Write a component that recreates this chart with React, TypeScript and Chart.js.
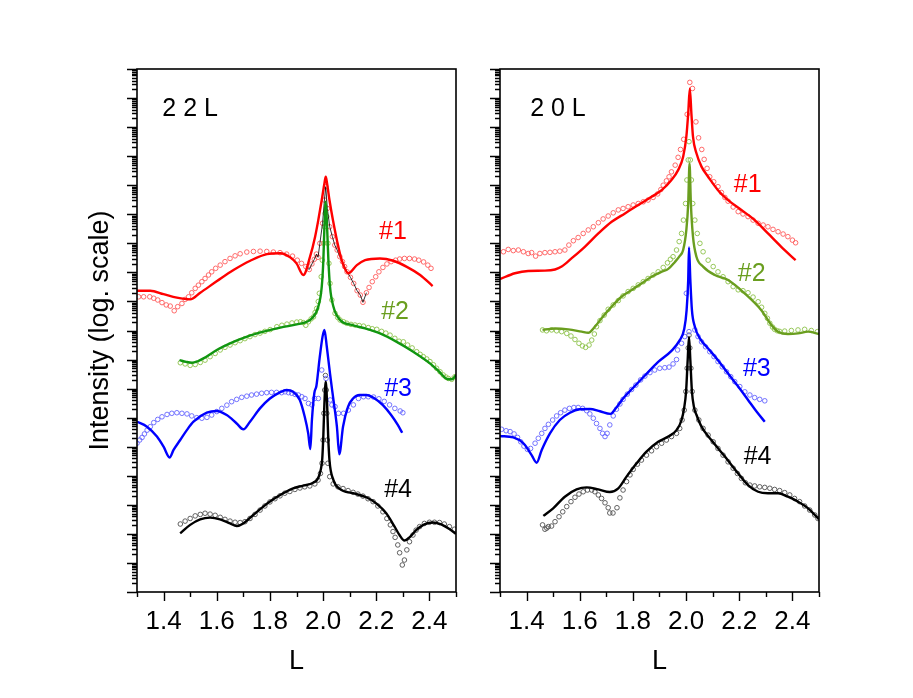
import React, { useEffect, useRef } from 'react';
import { Chart, registerables } from 'chart.js';

Chart.register(...registerables);

type P = [number, number]; // [L, log10(intensity)]

const FONT = '"Liberation Sans", Arial, Helvetica, sans-serif';

// Axis ticks
const X_TICKS = [1.3, 1.4, 1.5, 1.6, 1.7, 1.8, 1.9, 2.0, 2.1, 2.2, 2.3, 2.4, 2.5];
const X_LABELS = [1.4, 1.6, 1.8, 2.0, 2.2, 2.4];
const Y_DECADES = [0, 1, 2, 3, 4, 5, 6, 7, 8, 9, 10, 11, 12, 13, 14, 15, 16, 17, 18];
const Y_MINOR = [2, 3, 4, 5, 6, 7, 8, 9];

// Colours
const RED = '#ff0000';
const RED_PT = '#ff5a5a';
const GREEN_L = '#119611';
const OLIVE = '#6a9e1f';
const GREEN_PT = '#8cc24a';
const BLUE = '#0000ff';
const BLUE_PT = '#6464ff';
const BLACK = '#000000';
const BLACK_PT = '#505050';

// ---------- Left panel: 2 2 L ----------
const left1Fit: P[] = [[1.300,10.37],[1.350,10.37],[1.400,10.25],[1.450,10.13],[1.500,10.07],[1.538,10.30],[1.601,10.70],[1.663,11.08],[1.726,11.40],[1.789,11.63],[1.839,11.66],[1.876,11.52],[1.900,11.31],[1.926,10.91],[1.951,11.54],[1.970,12.23],[1.982,12.80],[1.995,13.49],[2.005,14.06],[2.010,14.29],[2.015,14.06],[2.024,13.49],[2.037,12.80],[2.052,12.11],[2.070,11.42],[2.095,10.97],[2.127,11.25],[2.158,11.42],[2.214,11.48],[2.264,11.40],[2.315,11.19],[2.365,10.91],[2.412,10.53]];
const left1Data: P[] = [[1.306,10.16],[1.325,10.16],[1.348,10.16],[1.363,10.11],[1.378,10.05],[1.394,9.96],[1.410,9.88],[1.425,9.84],[1.440,9.68],[1.453,9.82],[1.469,9.93],[1.481,10.07],[1.494,10.16],[1.506,10.30],[1.519,10.45],[1.531,10.56],[1.544,10.68],[1.556,10.79],[1.569,10.91],[1.581,11.02],[1.596,11.14],[1.613,11.25],[1.631,11.37],[1.650,11.48],[1.669,11.57],[1.688,11.64],[1.713,11.70],[1.738,11.72],[1.763,11.73],[1.788,11.72],[1.813,11.70],[1.838,11.68],[1.863,11.63],[1.885,11.56],[1.903,11.42],[1.919,11.31],[1.935,11.20],[1.948,11.10],[1.958,11.29],[1.967,11.45],[1.975,11.63],[1.981,11.52],[1.988,12.00],[1.998,12.69],[2.005,13.49],[2.010,13.95],[2.016,13.20],[2.025,12.57],[2.035,12.23],[2.044,11.94],[2.053,11.77],[2.063,11.54],[2.073,11.37],[2.081,11.20],[2.090,11.02],[2.103,10.83],[2.115,10.62],[2.128,10.37],[2.140,10.22],[2.150,9.97],[2.163,10.30],[2.173,10.48],[2.185,10.68],[2.198,10.85],[2.210,11.02],[2.225,11.17],[2.240,11.29],[2.256,11.37],[2.273,11.42],[2.288,11.46],[2.306,11.48],[2.325,11.48],[2.344,11.46],[2.360,11.42],[2.378,11.36],[2.394,11.25],[2.406,11.14]];

const left2Fit: P[] = [[1.460,7.98],[1.485,7.92],[1.507,7.89],[1.530,7.95],[1.550,8.04],[1.600,8.33],[1.650,8.56],[1.714,8.79],[1.776,8.96],[1.839,9.10],[1.901,9.21],[1.939,9.30],[1.958,9.42],[1.982,9.82],[1.995,10.51],[2.001,11.42],[2.005,12.57],[2.010,13.43],[2.015,12.57],[2.020,11.42],[2.026,10.51],[2.039,9.82],[2.064,9.36],[2.108,9.19],[2.158,9.07],[2.214,8.90],[2.277,8.61],[2.339,8.27],[2.402,7.87],[2.437,7.58],[2.469,7.32],[2.485,7.32],[2.500,7.47]];
const left2Data: P[] = [[1.463,7.89],[1.481,7.85],[1.500,7.80],[1.519,7.83],[1.538,7.90],[1.556,7.98],[1.575,8.10],[1.594,8.21],[1.613,8.33],[1.631,8.42],[1.650,8.50],[1.669,8.58],[1.688,8.65],[1.706,8.72],[1.725,8.79],[1.744,8.86],[1.763,8.91],[1.781,8.97],[1.801,9.03],[1.826,9.13],[1.845,9.18],[1.864,9.22],[1.883,9.26],[1.901,9.29],[1.915,9.30],[1.926,9.27],[1.935,9.18],[1.945,9.30],[1.955,9.40],[1.964,9.47],[1.970,9.62],[1.976,9.76],[1.982,10.00],[1.986,10.28],[1.993,10.85],[1.997,11.42],[2.003,12.00],[2.005,12.57],[2.008,13.03],[2.014,12.92],[2.018,12.00],[2.022,11.31],[2.026,10.62],[2.033,10.05],[2.045,9.59],[2.055,9.45],[2.064,9.36],[2.077,9.30],[2.089,9.25],[2.105,9.21],[2.120,9.19],[2.136,9.17],[2.152,9.15],[2.170,9.10],[2.185,9.06],[2.202,9.04],[2.220,8.97],[2.236,8.91],[2.252,8.84],[2.270,8.73],[2.286,8.63],[2.302,8.61],[2.318,8.50],[2.335,8.40],[2.352,8.27],[2.365,8.18],[2.377,8.10],[2.390,8.02],[2.402,7.93],[2.415,7.82],[2.427,7.70],[2.440,7.58],[2.452,7.47],[2.462,7.40],[2.471,7.35],[2.484,7.32],[2.496,7.41]];

const left3Fit: P[] = [[1.300,5.86],[1.3375,5.69],[1.375,5.35],[1.400,5.00],[1.4225,4.63],[1.4375,4.89],[1.4625,5.23],[1.4875,5.57],[1.5125,5.86],[1.5625,6.17],[1.600,6.23],[1.6375,6.09],[1.675,5.80],[1.700,5.60],[1.725,5.86],[1.7625,6.32],[1.800,6.66],[1.8375,6.87],[1.8625,6.95],[1.8875,6.89],[1.9125,6.61],[1.931,6.03],[1.944,5.46],[1.952,4.92],[1.958,5.92],[1.967,6.84],[1.975,7.10],[1.987,8.05],[1.998,8.79],[2.005,9.02],[2.014,8.44],[2.026,7.52],[2.039,6.61],[2.052,5.69],[2.061,4.74],[2.075,5.69],[2.094,6.38],[2.1125,6.66],[2.1375,6.78],[2.1625,6.78],[2.194,6.66],[2.225,6.43],[2.256,6.09],[2.281,5.75],[2.2975,5.48]];
const left3Data: P[] = [[1.300,5.12],[1.310,5.23],[1.319,5.32],[1.328,5.44],[1.338,5.57],[1.350,5.69],[1.363,5.83],[1.378,5.94],[1.394,6.03],[1.413,6.11],[1.431,6.15],[1.450,6.17],[1.469,6.15],[1.488,6.13],[1.506,6.06],[1.525,6.00],[1.544,5.98],[1.563,6.01],[1.581,6.09],[1.600,6.21],[1.619,6.32],[1.638,6.43],[1.656,6.55],[1.675,6.63],[1.694,6.70],[1.713,6.74],[1.731,6.78],[1.750,6.81],[1.769,6.84],[1.788,6.86],[1.806,6.87],[1.825,6.87],[1.844,6.86],[1.857,6.89],[1.870,6.86],[1.882,6.84],[1.895,6.80],[1.907,6.78],[1.920,6.72],[1.932,6.66],[1.945,6.49],[1.958,6.44],[1.968,6.66],[1.982,6.66],[1.995,7.64],[2.011,7.35],[2.027,6.61],[2.033,6.44],[2.045,6.38],[2.058,6.15],[2.077,6.15],[2.095,6.26],[2.114,6.44],[2.133,6.66],[2.152,6.72],[2.170,6.72],[2.190,6.71],[2.210,6.65],[2.230,6.56],[2.250,6.44],[2.270,6.32],[2.290,6.23],[2.300,6.17]];

const left4Fit: P[] = [[1.4625,2.02],[1.500,2.31],[1.5375,2.50],[1.575,2.56],[1.6125,2.50],[1.650,2.36],[1.675,2.27],[1.700,2.36],[1.7375,2.65],[1.775,2.94],[1.8125,3.19],[1.850,3.40],[1.8875,3.57],[1.925,3.66],[1.9625,3.76],[1.981,3.91],[1.991,4.20],[1.997,4.60],[2.001,5.40],[2.005,6.50],[2.010,7.24],[2.015,6.50],[2.019,5.40],[2.024,4.54],[2.039,3.85],[2.0625,3.55],[2.1125,3.40],[2.1625,3.26],[2.200,3.05],[2.2375,2.71],[2.269,2.25],[2.2875,1.96],[2.306,1.77],[2.325,1.88],[2.350,2.13],[2.381,2.33],[2.4125,2.39],[2.444,2.33],[2.475,2.17],[2.500,2.00]];
const left4Data: P[] = [[1.463,2.34],[1.481,2.44],[1.500,2.53],[1.519,2.62],[1.538,2.67],[1.556,2.71],[1.575,2.68],[1.594,2.64],[1.613,2.57],[1.631,2.50],[1.650,2.44],[1.669,2.40],[1.688,2.39],[1.706,2.42],[1.725,2.53],[1.744,2.67],[1.763,2.82],[1.781,2.96],[1.800,3.10],[1.819,3.21],[1.838,3.31],[1.856,3.40],[1.875,3.46],[1.894,3.53],[1.913,3.58],[1.931,3.62],[1.950,3.65],[1.969,3.72],[1.981,3.85],[1.990,4.08],[1.996,4.43],[2.000,5.23],[2.003,6.15],[2.006,6.95],[2.009,7.45],[2.012,6.95],[2.014,6.15],[2.016,5.23],[2.018,4.43],[2.025,3.97],[2.038,3.72],[2.056,3.62],[2.075,3.56],[2.094,3.49],[2.113,3.43],[2.131,3.37],[2.150,3.30],[2.169,3.21],[2.188,3.11],[2.206,2.96],[2.225,2.76],[2.240,2.53],[2.253,2.31],[2.263,2.08],[2.271,1.88],[2.281,1.62],[2.288,1.35],[2.298,0.93],[2.306,1.10],[2.315,1.45],[2.325,1.73],[2.338,1.96],[2.350,2.13],[2.363,2.25],[2.381,2.36],[2.400,2.40],[2.419,2.40],[2.438,2.39],[2.456,2.34],[2.475,2.25],[2.494,2.16]];

// ---------- Right panel: 2 0 L ----------
const right1Fit: P[] = [[1.300,10.77],[1.356,10.97],[1.406,11.05],[1.469,11.06],[1.507,11.10],[1.532,11.20],[1.569,11.48],[1.619,11.88],[1.670,12.34],[1.720,12.74],[1.770,13.03],[1.820,13.32],[1.870,13.60],[1.908,13.83],[1.945,14.18],[1.970,14.52],[1.989,14.98],[2.001,15.67],[2.008,16.47],[2.014,17.33],[2.020,16.47],[2.026,15.67],[2.039,15.10],[2.058,14.64],[2.083,14.29],[2.120,13.83],[2.158,13.49],[2.208,13.15],[2.258,12.80],[2.308,12.34],[2.358,11.88],[2.412,11.42]];
const right1Data: P[] = [[1.313,11.71],[1.331,11.79],[1.350,11.75],[1.369,11.77],[1.388,11.71],[1.406,11.65],[1.419,11.68],[1.434,11.56],[1.450,11.65],[1.469,11.68],[1.488,11.69],[1.507,11.71],[1.525,11.73],[1.544,11.77],[1.559,11.94],[1.576,12.09],[1.594,12.20],[1.613,12.34],[1.632,12.46],[1.651,12.57],[1.670,12.71],[1.688,12.84],[1.707,12.94],[1.726,13.05],[1.745,13.15],[1.763,13.20],[1.782,13.26],[1.801,13.32],[1.820,13.37],[1.839,13.43],[1.857,13.49],[1.876,13.58],[1.893,13.70],[1.905,13.85],[1.914,14.00],[1.926,14.15],[1.936,14.29],[1.945,14.46],[1.959,14.69],[1.970,14.96],[1.979,15.23],[1.991,15.58],[2.004,16.44],[2.014,17.54],[2.024,17.33],[2.037,16.18],[2.047,15.63],[2.059,15.23],[2.068,14.89],[2.079,14.58],[2.089,14.29],[2.104,14.12],[2.120,13.95],[2.133,13.75],[2.146,13.58],[2.158,13.45],[2.177,13.25],[2.196,13.09],[2.214,13.01],[2.233,12.92],[2.252,12.80],[2.271,12.69],[2.290,12.63],[2.308,12.57],[2.327,12.48],[2.346,12.40],[2.365,12.32],[2.383,12.23],[2.400,12.11],[2.412,12.02]];

const right2Fit: P[] = [[1.460,9.02],[1.507,9.07],[1.557,9.04],[1.607,8.96],[1.632,8.92],[1.657,9.13],[1.682,9.42],[1.720,9.82],[1.757,10.16],[1.795,10.39],[1.832,10.62],[1.870,10.85],[1.907,11.02],[1.933,11.12],[1.958,11.36],[1.975,11.55],[1.989,11.77],[2.001,12.46],[2.008,13.37],[2.013,14.75],[2.018,13.37],[2.026,12.23],[2.039,11.54],[2.064,11.20],[2.108,10.91],[2.158,10.74],[2.220,10.28],[2.283,9.70],[2.321,9.19],[2.346,8.96],[2.383,8.88],[2.421,8.90],[2.459,8.96],[2.500,8.88]];
const right2Data: P[] = [[1.460,9.02],[1.475,8.99],[1.494,9.02],[1.513,8.99],[1.532,8.96],[1.551,8.90],[1.567,8.81],[1.582,8.69],[1.597,8.56],[1.610,8.47],[1.622,8.42],[1.635,8.50],[1.645,8.67],[1.655,8.88],[1.663,9.13],[1.676,9.34],[1.692,9.53],[1.707,9.73],[1.726,9.88],[1.745,10.03],[1.763,10.19],[1.782,10.34],[1.801,10.45],[1.820,10.57],[1.839,10.68],[1.857,10.79],[1.876,10.91],[1.895,11.02],[1.914,11.17],[1.930,11.33],[1.941,11.45],[1.951,11.54],[1.964,11.77],[1.974,12.06],[1.983,12.34],[1.990,12.80],[1.998,13.37],[2.003,14.18],[2.008,14.87],[2.011,15.50],[2.016,14.87],[2.020,14.18],[2.025,13.37],[2.033,12.80],[2.042,12.34],[2.052,12.00],[2.064,11.71],[2.083,11.42],[2.102,11.20],[2.120,11.02],[2.139,10.85],[2.158,10.68],[2.177,10.51],[2.196,10.40],[2.214,10.37],[2.233,10.30],[2.252,10.15],[2.271,9.99],[2.284,9.80],[2.296,9.59],[2.306,9.42],[2.315,9.25],[2.325,9.12],[2.333,9.04],[2.343,8.99],[2.352,8.97],[2.371,8.98],[2.396,9.00],[2.421,9.02],[2.446,9.04],[2.471,9.00],[2.494,8.96]];

const right3Fit: P[] = [[1.300,5.37],[1.350,5.32],[1.388,5.12],[1.419,4.71],[1.438,4.45],[1.457,4.89],[1.488,5.46],[1.525,5.92],[1.563,6.17],[1.600,6.29],[1.638,6.30],[1.676,6.22],[1.715,6.13],[1.738,6.35],[1.763,6.66],[1.800,7.02],[1.845,7.45],[1.895,7.92],[1.945,8.30],[1.975,8.65],[1.993,9.05],[2.002,9.70],[2.008,10.74],[2.011,11.86],[2.016,10.74],[2.022,9.70],[2.033,9.13],[2.052,8.73],[2.083,8.38],[2.120,7.98],[2.158,7.52],[2.196,7.07],[2.233,6.61],[2.265,6.21],[2.296,5.86]];
const right3Data: P[] = [[1.306,5.60],[1.323,5.55],[1.338,5.52],[1.353,5.44],[1.366,5.32],[1.378,5.17],[1.390,5.02],[1.403,4.91],[1.415,4.94],[1.432,5.12],[1.444,5.29],[1.457,5.46],[1.469,5.63],[1.482,5.77],[1.498,5.92],[1.513,6.06],[1.528,6.17],[1.544,6.26],[1.561,6.32],[1.578,6.35],[1.594,6.35],[1.611,6.32],[1.626,6.24],[1.638,6.13],[1.651,5.98],[1.663,5.80],[1.676,5.63],[1.686,5.46],[1.695,5.35],[1.703,5.46],[1.713,5.75],[1.726,6.06],[1.738,6.29],[1.751,6.47],[1.763,6.63],[1.779,6.81],[1.795,6.97],[1.811,7.12],[1.829,7.30],[1.845,7.43],[1.864,7.55],[1.882,7.64],[1.901,7.70],[1.920,7.72],[1.936,7.74],[1.951,7.85],[1.964,8.00],[1.968,8.33],[1.983,8.56],[1.995,8.79],[2.001,10.28],[2.011,8.96],[2.033,9.02],[2.045,8.79],[2.058,8.61],[2.073,8.44],[2.089,8.27],[2.105,8.10],[2.120,7.93],[2.136,7.75],[2.152,7.58],[2.168,7.41],[2.183,7.24],[2.202,7.07],[2.221,6.89],[2.240,6.78],[2.258,6.69],[2.277,6.63],[2.296,6.58]];

const right4Fit: P[] = [[1.463,2.62],[1.500,2.88],[1.544,3.28],[1.588,3.53],[1.626,3.60],[1.670,3.53],[1.713,3.44],[1.745,3.57],[1.776,3.97],[1.814,4.43],[1.851,4.83],[1.895,5.17],[1.933,5.35],[1.964,5.57],[1.983,5.92],[1.993,6.35],[2.000,6.90],[2.006,7.98],[2.011,8.78],[2.016,7.98],[2.022,6.90],[2.030,6.35],[2.039,6.10],[2.058,5.69],[2.095,5.23],[2.146,4.66],[2.196,4.08],[2.233,3.68],[2.271,3.45],[2.308,3.40],[2.346,3.40],[2.383,3.28],[2.421,3.11],[2.459,2.88],[2.500,2.50]];
const right4Data: P[] = [[1.460,2.31],[1.469,2.16],[1.476,2.20],[1.482,2.25],[1.494,2.27],[1.507,2.42],[1.522,2.59],[1.536,2.76],[1.551,2.94],[1.567,3.11],[1.582,3.26],[1.597,3.37],[1.613,3.45],[1.629,3.51],[1.645,3.51],[1.657,3.45],[1.670,3.34],[1.682,3.22],[1.695,3.07],[1.707,2.90],[1.713,2.72],[1.725,2.72],[1.740,2.90],[1.751,3.24],[1.763,3.51],[1.776,3.80],[1.789,4.03],[1.801,4.22],[1.817,4.40],[1.832,4.54],[1.851,4.71],[1.870,4.86],[1.889,5.00],[1.908,5.12],[1.926,5.23],[1.945,5.35],[1.964,5.46],[1.976,5.63],[1.985,5.92],[1.993,6.26],[1.999,6.90],[2.004,7.70],[2.008,8.40],[2.011,8.84],[2.014,8.40],[2.018,7.70],[2.023,6.90],[2.033,6.26],[2.048,5.92],[2.064,5.63],[2.083,5.40],[2.102,5.17],[2.120,4.94],[2.139,4.71],[2.158,4.48],[2.177,4.26],[2.193,4.08],[2.208,3.91],[2.223,3.76],[2.240,3.68],[2.258,3.65],[2.277,3.62],[2.296,3.60],[2.315,3.57],[2.333,3.53],[2.352,3.49],[2.371,3.42],[2.390,3.34],[2.408,3.22],[2.427,3.11],[2.446,2.96],[2.465,2.82],[2.484,2.65],[2.496,2.53]];

// Annotations: [text, L, log10(I), colour, font size]
type Note = [string, number, number, string, number];
const LEFT_NOTES: Note[] = [
  ['2 2 L', 1.50, 16.62, BLACK, 25],
  ['#1', 2.263, 12.39, RED, 25],
  ['#2', 2.271, 9.64, OLIVE, 25],
  ['#3', 2.282, 6.99, BLUE, 25],
  ['#4', 2.282, 3.51, BLACK, 25],
];
const RIGHT_NOTES: Note[] = [
  ['2 0 L', 1.518, 16.62, BLACK, 25],
  ['#1', 2.232, 14.0, RED, 25],
  ['#2', 2.247, 10.94, OLIVE, 25],
  ['#3', 2.266, 7.67, BLUE, 25],
  ['#4', 2.269, 4.65, BLACK, 25],
];

const toXY = (pts: P[]) => pts.map(([l, d]) => ({ x: l, y: Math.pow(10, d) }));

const fitDs = (pts: P[], color: string) => ({
  data: toXY(pts),
  showLine: true,
  borderColor: color,
  backgroundColor: color,
  borderWidth: 2.4,
  pointRadius: 0,
  cubicInterpolationMode: 'monotone',
  fill: false,
  order: 0,
});

const traceDs = (pts: P[]) => ({
  data: toXY(pts),
  showLine: true,
  borderColor: '#000',
  borderWidth: 0.8,
  pointRadius: 0,
  fill: false,
  order: 1,
});

const dataDs = (pts: P[], color: string) => ({
  data: toXY(pts),
  showLine: false,
  pointStyle: 'circle',
  pointRadius: 2.3,
  pointBorderWidth: 0.9,
  borderColor: color,
  pointBorderColor: color,
  backgroundColor: 'rgba(0,0,0,0)',
  pointBackgroundColor: 'rgba(0,0,0,0)',
  order: 2,
});

function decorPlugin(notes: Note[]) {
  return {
    id: 'decor',
    afterDatasetsDraw(chart: any) {
      const { ctx, chartArea: a, scales } = chart;
      const xs = scales.x;
      const ys = scales.y;
      ctx.save();
      // notes
      for (const [text, l, d, color, size] of notes) {
        ctx.fillStyle = color;
        ctx.font = `${size}px ${FONT}`;
        ctx.textAlign = 'center';
        ctx.textBaseline = 'middle';
        ctx.fillText(text, xs.getPixelForValue(l), ys.getPixelForValue(Math.pow(10, d)));
      }
      // frame
      ctx.strokeStyle = '#000';
      ctx.lineWidth = 1.6;
      ctx.strokeRect(a.left, a.top, a.right - a.left, a.bottom - a.top);
      // x ticks
      ctx.lineWidth = 1.4;
      ctx.beginPath();
      for (const v of X_TICKS) {
        const px = Math.round(xs.getPixelForValue(v)) + 0.5;
        const len = X_LABELS.some((m) => Math.abs(m - v) < 1e-6) ? 9 : 5;
        ctx.moveTo(px, a.bottom);
        ctx.lineTo(px, a.bottom + len);
      }
      // y ticks
      for (const n of Y_DECADES) {
        const base = Math.pow(10, n);
        const py = Math.round(ys.getPixelForValue(base)) + 0.5;
        ctx.moveTo(a.left, py);
        ctx.lineTo(a.left - 10, py);
        if (n < Y_DECADES[Y_DECADES.length - 1]) {
          for (const k of Y_MINOR) {
            const pm = Math.round(ys.getPixelForValue(k * base)) + 0.5;
            ctx.moveTo(a.left, pm);
            ctx.lineTo(a.left - 5, pm);
          }
        }
      }
      ctx.stroke();
      ctx.restore();
    },
  };
}

function makeConfig(datasets: any[], notes: Note[], yWidth: number, padRight: number, yTitle: boolean): any {
  return {
    type: 'scatter',
    data: { datasets },
    options: {
      responsive: false,
      maintainAspectRatio: false,
      animation: false,
      events: [],
      layout: { padding: { left: 0, right: padRight, top: 69, bottom: 0 } },
      plugins: { legend: { display: false }, tooltip: { enabled: false } },
      scales: {
        x: {
          type: 'linear',
          min: 1.3,
          max: 2.5,
          afterBuildTicks: (s: any) => {
            s.ticks = X_LABELS.map((v) => ({ value: v }));
          },
          ticks: {
            autoSkip: false,
            maxRotation: 0,
            minRotation: 0,
            color: '#000',
            padding: 14,
            font: { family: FONT, size: 26 },
            callback: (v: any) => Number(v).toFixed(1),
          },
          grid: { display: false, drawTicks: false },
          border: { display: false },
          title: {
            display: true,
            text: 'L',
            color: '#000',
            font: { family: FONT, size: 27 },
            padding: { top: 0, bottom: 20 },
          },
          afterFit: (s: any) => {
            s.height = 106;
          },
        },
        y: {
          type: 'logarithmic',
          min: 1,
          max: 1e18,
          ticks: { display: false },
          grid: { display: false, drawTicks: false },
          border: { display: false },
          title: {
            display: yTitle,
            text: 'Intensity (log. scale)',
            color: '#000',
            font: { family: FONT, size: 27 },
            padding: { top: 84, bottom: 0 },
          },
          afterFit: (s: any) => {
            s.width = yWidth;
          },
        },
      },
    },
    plugins: [decorPlugin(notes)],
  };
}

export default function App() {
  const leftRef = useRef<HTMLCanvasElement>(null);
  const rightRef = useRef<HTMLCanvasElement>(null);

  useEffect(() => {
    const leftSets = [
      fitDs(left1Fit, RED),
      fitDs(left2Fit, GREEN_L),
      fitDs(left3Fit, BLUE),
      fitDs(left4Fit, BLACK),
      traceDs(left1Data.filter((p) => p[0] >= 1.93 && p[0] <= 2.17)),
      dataDs(left1Data, RED_PT),
      dataDs(left2Data, GREEN_PT),
      dataDs(left3Data, BLUE_PT),
      dataDs(left4Data, BLACK_PT),
    ];
    const rightSets = [
      fitDs(right1Fit, RED),
      fitDs(right2Fit, OLIVE),
      fitDs(right3Fit, BLUE),
      fitDs(right4Fit, BLACK),
      dataDs(right1Data, RED_PT),
      dataDs(right2Data, GREEN_PT),
      dataDs(right3Data, BLUE_PT),
      dataDs(right4Data, BLACK_PT),
    ];
    const c1 = new Chart(leftRef.current as HTMLCanvasElement, makeConfig(leftSets, LEFT_NOTES, 137, 22, true));
    const c2 = new Chart(rightRef.current as HTMLCanvasElement, makeConfig(rightSets, RIGHT_NOTES, 22, 94, false));
    return () => {
      c1.destroy();
      c2.destroy();
    };
  }, []);

  return (
    <div style={{ position: 'absolute', left: 0, top: 0, width: 913, height: 698, background: '#fff', overflow: 'hidden' }}>
      <canvas ref={leftRef} width={478} height={698} style={{ position: 'absolute', left: 0, top: 0, width: 478, height: 698 }} />
      <canvas ref={rightRef} width={435} height={698} style={{ position: 'absolute', left: 478, top: 0, width: 435, height: 698 }} />
    </div>
  );
}
